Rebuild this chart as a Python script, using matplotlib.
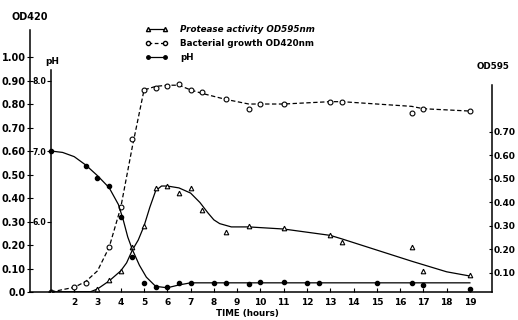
import matplotlib
matplotlib.use("Agg")
import matplotlib.pyplot as plt

plt.rcParams['font.family'] = ['DejaVu Sans']
plt.rcParams['font.weight'] = 'bold'

# bacterial growth OD420 (open circles, dashed)
growth_t = [1, 2, 2.5, 3.5, 4, 4.5, 5, 5.5, 6, 6.5, 7, 7.5, 8.5, 9.5, 10, 11, 13, 13.5, 16.5, 17, 19]
growth_od = [0.0, 0.02, 0.04, 0.19, 0.36, 0.65, 0.86, 0.87, 0.875, 0.885, 0.86, 0.85, 0.82, 0.78,
             0.80, 0.80, 0.81, 0.81, 0.76, 0.78, 0.77]
growth_fit_t = [1, 2, 2.5, 3, 3.5, 4, 4.5, 5, 5.5, 6, 6.5, 7, 7.5, 8.5, 9.5, 10, 11, 13, 13.5, 16.5, 17, 19]
growth_fit = [0.0, 0.02, 0.045, 0.09, 0.19, 0.36, 0.62, 0.86, 0.875, 0.88, 0.88, 0.86, 0.845, 0.82,
              0.80, 0.80, 0.80, 0.81, 0.81, 0.79, 0.78, 0.77]

# protease activity OD595 (open triangles, solid)
prot_t = [1, 3, 3.5, 4, 4.5, 5, 5.5, 6, 6.5, 7, 7.5, 8.5, 9.5, 11, 13, 13.5, 16.5, 17, 19]
prot_od = [0.02, 0.03, 0.07, 0.11, 0.21, 0.30, 0.46, 0.47, 0.44, 0.46, 0.37, 0.275, 0.30, 0.29,
           0.26, 0.23, 0.21, 0.11, 0.09]
prot_fit_t = [1, 2.7, 3, 3.5, 4, 4.25, 4.5, 4.75, 5, 5.25, 5.5, 5.75, 6, 6.5, 7, 7.4, 7.75, 8,
              8.25, 8.75, 9.5, 11, 13, 13.5, 16.5, 18, 19]
prot_fit = [0.02, 0.02, 0.032, 0.066, 0.109, 0.143, 0.198, 0.24, 0.30, 0.38, 0.45, 0.47, 0.47,
            0.462, 0.44, 0.40, 0.355, 0.326, 0.31, 0.296, 0.296, 0.287, 0.26, 0.245, 0.15, 0.105, 0.087]

# pH (filled dots, solid)
ph_t = [1, 2.5, 3, 3.5, 4, 4.5, 5, 5.5, 6, 6.5, 7, 8, 8.5, 9.5, 10, 11, 12, 12.5, 15, 16.5, 17, 19]
ph_val = [7.0, 6.79, 6.62, 6.5, 6.07, 5.5, 5.13, 5.07, 5.07, 5.13, 5.13, 5.13, 5.13, 5.11, 5.14,
          5.14, 5.13, 5.13, 5.13, 5.13, 5.1, 5.04]
ph_fit_t = [1, 1.5, 2, 2.5, 3, 3.5, 3.9, 4.1, 4.3, 4.5, 4.8, 5.1, 5.5, 6, 6.5, 7, 19]
ph_fit = [7.0, 6.98, 6.92, 6.8, 6.65, 6.48, 6.24, 6.03, 5.78, 5.6, 5.38, 5.21, 5.08, 5.06, 5.1,
          5.13, 5.13]

x_ticks = list(range(2, 20))
od420_ticks = [0.0, 0.1, 0.2, 0.3, 0.4, 0.5, 0.6, 0.7, 0.8, 0.9, 1.0]
od420_labels = ['0.0', '0.10', '0.20', '0.30', '0.40', '0.50', '0.60', '0.70', '0.80', '0.90', '1.00']
ph_ticks = [6.0, 7.0, 8.0]
od595_ticks = [0.1, 0.2, 0.3, 0.4, 0.5, 0.6, 0.7]

fig = plt.figure(figsize=(5.18, 3.2), dpi=100)
ax = fig.add_axes([30 / 518, 1 - 292 / 320, 462 / 518, 262 / 320])
ax.set_xlim(0.1, 19.95)
ax.set_ylim(0, 1.115)

axr = ax.twinx()
axr.set_ylim(0.019, 0.019 + 1.115)
axp = ax.twinx()
axp.set_ylim(5, 5 + 1.115 / 0.3)

# curves
ax.plot(growth_fit_t, growth_fit, ls=(0, (3.5, 2)), color='k', lw=0.9)
ax.plot(growth_t, growth_od, 'o', mfc='white', mec='k', ms=3.5, mew=0.8)
axr.plot(prot_fit_t, prot_fit, '-', color='k', lw=0.9)
axr.plot(prot_t, prot_od, '^', mfc='white', mec='k', ms=3.3, mew=0.8)
axp.plot(ph_fit_t, ph_fit, '-', color='k', lw=0.9)
axp.plot(ph_t, ph_val, 'o', color='k', ms=3)

# spines
for a in (ax, axr, axp):
    for s in a.spines.values():
        s.set_visible(False)
    a.patch.set_visible(False)
ax.spines['left'].set_visible(True)
ax.spines['bottom'].set_visible(True)
axr.spines['right'].set_visible(True)
axr.spines['right'].set_bounds(0.019, 0.9)
axp.spines['left'].set_visible(True)
axp.spines['left'].set_position(('data', 1))
axp.spines['left'].set_bounds(5, 8.15)
for a in (ax, axr, axp):
    for s in a.spines.values():
        s.set_linewidth(1.1)

ax.set_xticks(x_ticks)
ax.set_xticklabels([str(t) for t in x_ticks])
ax.tick_params(axis='x', direction='in', length=3, width=0.8, labelsize=6.5, pad=4)
ax.set_yticks(od420_ticks)
ax.set_yticklabels(od420_labels)
ax.tick_params(axis='y', direction='inout', length=4, width=0.8, labelsize=7, pad=1)

axr.set_yticks(od595_ticks)
axr.set_yticklabels(['%.2f' % v for v in od595_ticks])
axr.tick_params(axis='y', direction='in', length=2, width=0.8, labelsize=6.5, pad=1)

axp.yaxis.tick_left()
axp.set_yticks(ph_ticks)
axp.set_yticklabels(['6.0', '7.0', '8.0'])
axp.tick_params(axis='y', direction='out', length=3, width=0.8, labelsize=5.6, pad=0.5)

ax.set_xlabel('TIME (hours)', fontsize=6.3, fontweight='bold')
ax.xaxis.set_label_coords(0.47, -0.065)
ax.text(0.0, 1.05, 'OD420', transform=ax.transAxes, ha='center', va='center', fontsize=7, fontweight='bold')
axp.text(1.05, 8.27, 'pH', ha='center', va='center', fontsize=6.5, fontweight='bold')
axr.text(1.003, 0.859, 'OD595', transform=ax.transAxes, ha='center', va='center', fontsize=6.3, fontweight='bold')

# legend
h1, = ax.plot([], [], '-^', color='k', mfc='white', ms=3, lw=0.9)
h2, = ax.plot([], [], ls=(0, (3, 2)), marker='o', color='k', mfc='white', ms=3, lw=0.9)
h3, = ax.plot([], [], '-o', color='k', ms=2.5, lw=0.9)
leg = ax.legend([h1, h2, h3], ['Protease activity OD595nm', 'Bacterial growth OD420nm', 'pH'],
                loc='upper left', bbox_to_anchor=(145 / 518, 1 - 25 / 320), bbox_transform=fig.transFigure,
                frameon=False, numpoints=2, handlelength=2.6, handletextpad=1.4, labelspacing=0.55,
                borderpad=0, borderaxespad=0, prop={'size': 6.3, 'weight': 'bold'})
leg.get_texts()[0].set_fontstyle('italic')

fig.savefig('out.png', dpi=100)
